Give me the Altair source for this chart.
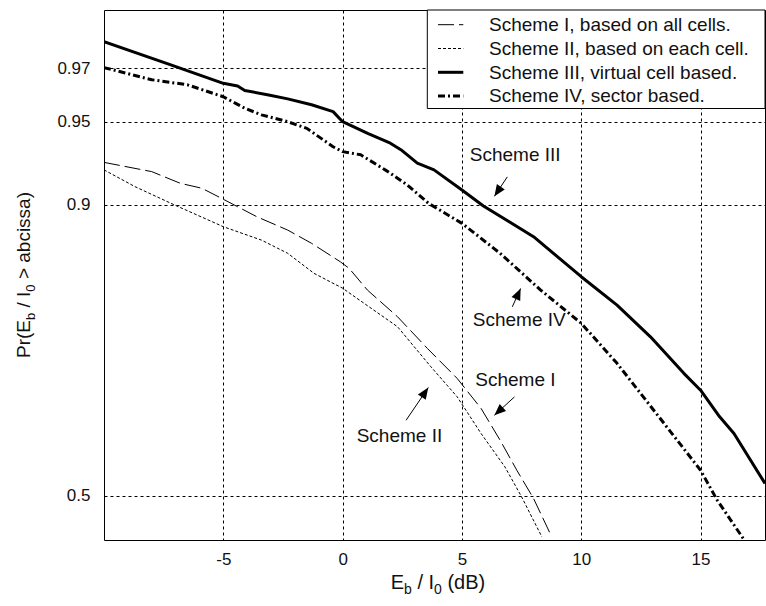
import altair as alt
import pandas as pd
from statistics import NormalDist

# ---------------- data ----------------
series_keys = ["I", "II", "III", "IV"]
series_names = [
    "Scheme I, based on all cells.",
    "Scheme II, based on each cell.",
    "Scheme III, virtual cell based.",
    "Scheme IV, sector based.",
]

s1_x = [-10, -8.0, -6.8, -5.9, -5.0, -3.6, -2.3, -1.3, -0.1, 0.27, 1.04, 2.3, 3.55, 4.8, 5.8, 6.6, 7.3, 8.0, 8.7]
s1_p = [0.9288, 0.9231, 0.9154, 0.9120, 0.9040, 0.8903, 0.8788, 0.8667, 0.8485, 0.8416, 0.8173, 0.7847,
        0.7418, 0.6974, 0.6499, 0.5968, 0.5450, 0.4956, 0.4341]

s2_x = [-10, -8.7, -7.05, -5.0, -3.4, -2.3, -1.2, 0.0, 0.9, 2.3, 3.7, 4.8, 5.8, 6.8, 7.5, 8.35]
s2_p = [0.9242, 0.9131, 0.8997, 0.8818, 0.8697, 0.8570, 0.8362, 0.8195, 0.8015, 0.7716, 0.7150, 0.6686,
        0.6083, 0.5509, 0.4984, 0.4286]

s3_x = [-10, -7.2, -5.0, -4.4, -4.1, -3.1, -2.3, -1.3, -0.4, 0.0, 1.05, 2.0, 2.44, 3.13, 3.83, 5.0, 5.9,
        8.0, 10.0, 11.5, 12.9, 14.3, 15.0, 15.8, 16.4, 17.7]
s3_p = [0.9771, 0.9710, 0.9652, 0.9643, 0.9627, 0.9611, 0.9596, 0.9573, 0.9545, 0.9501, 0.9446, 0.9396,
        0.9361, 0.9283, 0.9242, 0.9107, 0.8988, 0.8729, 0.8325, 0.7993, 0.7580, 0.7051, 0.6790, 0.6361,
        0.6083, 0.5219]

s4_x = [-10, -8.0, -6.5, -5.0, -4.1, -3.4, -2.3, -1.5, -0.4, 0.0, 0.76, 1.9, 2.7, 3.6, 5.0, 6.6, 8.3,
        10.0, 11.5, 13.5, 15.0, 15.7, 16.8]
s4_p = [0.9702, 0.9664, 0.9647, 0.9604, 0.9559, 0.9531, 0.9501, 0.9470, 0.9377, 0.9350, 0.9332, 0.9231,
        0.9144, 0.9009, 0.8847, 0.8570, 0.8173, 0.7761, 0.7201, 0.6236, 0.5450, 0.4924, 0.4250]

x_ticks = [-5, 0, 5, 10, 15]
y_tick_p = [0.5, 0.9, 0.95, 0.97]
x_domain = [-10, 17.7]
y_domain_p = [0.4232, 0.9837]

# annotations (position in dB / probability)
ann_text = ["Scheme III", "Scheme IV", "Scheme I", "Scheme II"]
ann_tx = [7.23, 7.40, 7.24, 2.38]
ann_tp = [0.9331, 0.7803, 0.6946, 0.6036]
arr_x0 = [6.90, 7.11, 7.20, 2.66]
arr_p0 = [0.9197, 0.7972, 0.6684, 0.6304]
arr_x1 = [6.36, 7.46, 6.36, 3.59]
arr_p1 = [0.9062, 0.8192, 0.6387, 0.6832]

# ---------------- styles ----------------
FONT = "Liberation Sans"
styles = {
    "I": dict(strokeWidth=1, strokeDash=[16, 5]),
    "II": dict(strokeWidth=1, strokeDash=[3, 2]),
    "III": dict(strokeWidth=3),
    "IV": dict(strokeWidth=3, strokeDash=[7, 3, 2, 3]),
}
arrow_angle = [214.0, 24.5, 227.5, 34.3]
W, H = 661, 530

# ---------------- tables ----------------
all_x = [s1_x, s2_x, s3_x, s4_x]
all_p = [s1_p, s2_p, s3_p, s4_p]
rows = []
for key, xs, ps in zip(series_keys, all_x, all_p):
    for xv, pv in zip(xs, ps):
        rows.append({"series": key, "x": xv, "p": pv})
df = pd.DataFrame(rows)

ann_df = pd.DataFrame({"t": ann_text, "x": ann_tx, "p": ann_tp})
arr_df = pd.DataFrame({"x": arr_x0, "p": arr_p0, "x1": arr_x1, "p1": arr_p1, "ang": arrow_angle})
one = pd.DataFrame({"k": [0]})

ND = NormalDist()
y_domain = [ND.inv_cdf(v) for v in y_domain_p]
y_tick_vals = [ND.inv_cdf(v) for v in y_tick_p]

x_scale = alt.Scale(domain=x_domain, nice=False, zero=False)
y_scale = alt.Scale(domain=y_domain, nice=False, zero=False)
x_axis = alt.Axis(values=x_ticks, labelExpr="'' + datum.value", title=None, grid=True,
                  gridDash=[3, 3], gridColor="#000", gridOpacity=1, gridWidth=1,
                  domain=False, ticks=False, tickSize=0, labelPadding=11,
                  labelFontSize=17, labelFont=FONT, labelColor="#111")
y_axis = alt.Axis(values=y_tick_vals, labelExpr="format(cumulativeNormal(datum.value), '.2~f')",
                  title=None, grid=True, gridDash=[3, 3], gridColor="#000", gridOpacity=1, gridWidth=1,
                  domain=False, ticks=False, tickSize=0, labelPadding=14,
                  labelFontSize=17, labelFont=FONT, labelColor="#111")

layers = []
for key in series_keys:
    layers.append(
        alt.Chart(df)
        .transform_filter(alt.datum.series == key)
        .transform_calculate(z="quantileNormal(datum.p)")
        .mark_line(color="black", clip=True, strokeJoin="round", **styles[key])
        .encode(x=alt.X("x:Q", scale=x_scale, axis=x_axis),
                y=alt.Y("z:Q", scale=y_scale, axis=y_axis),
                order="x:Q")
    )

# annotation texts
layers.append(
    alt.Chart(ann_df).transform_calculate(z="quantileNormal(datum.p)")
    .mark_text(font=FONT, fontSize=19, color="#111", align="center", baseline="middle")
    .encode(x=alt.X("x:Q", scale=x_scale, axis=x_axis), y=alt.Y("z:Q", scale=y_scale, axis=y_axis),
            text="t:N")
)
# arrows
layers.append(
    alt.Chart(arr_df).transform_calculate(z="quantileNormal(datum.p)", z1="quantileNormal(datum.p1)")
    .mark_rule(color="black", strokeWidth=1)
    .encode(x=alt.X("x:Q", scale=x_scale, axis=x_axis), y=alt.Y("z:Q", scale=y_scale, axis=y_axis),
            x2="x1:Q", y2="z1:Q")
)
layers.append(
    alt.Chart(arr_df).transform_calculate(z1="quantileNormal(datum.p1)")
    .mark_point(shape="M0,0L0.95,2.3L-0.95,2.3Z", filled=True, size=100, color="black", opacity=1,
                strokeWidth=0)
    .encode(x=alt.X("x1:Q", scale=x_scale, axis=x_axis), y=alt.Y("z1:Q", scale=y_scale, axis=y_axis),
            angle=alt.Angle("ang:Q", scale=None))
)

# legend box
layers.append(
    alt.Chart(one).mark_rect(fill="white", stroke="black", strokeWidth=1)
    .encode(x=alt.value(323.3), x2=alt.value(661), y=alt.value(0), y2=alt.value(98.5))
)
leg_sym_y = [14.7, 38.5, 62.3, 86.1]
leg_txt_y = [20.9, 44.7, 68.5, 92.3]
for i, key in enumerate(series_keys):
    layers.append(
        alt.Chart(one).mark_rule(color="black", **styles[key])
        .encode(x=alt.value(334), x2=alt.value(359.3), y=alt.value(leg_sym_y[i]))
    )
    layers.append(
        alt.Chart(one).mark_text(font=FONT, fontSize=19, color="#111", align="left", baseline="alphabetic")
        .encode(x=alt.value(385), y=alt.value(leg_txt_y[i]), text=alt.value(series_names[i]))
    )

# axis titles with subscripts
CW = {'P': 667, 'r': 333, '(': 333, 'E': 667, 'b': 556, ' ': 278, '/': 278, 'I': 278, '0': 556,
      '>': 584, 'a': 556, 'c': 500, 'i': 222, 's': 500, ')': 333, 'd': 556, 'B': 667}


def tw(s, fs):
    return sum(CW[c] for c in s) * fs / 1000.0


def title_pieces(pieces, main_fs, sub_fs):
    out = []
    pos = 0.0
    for s, sub in pieces:
        fs = sub_fs if sub else main_fs
        lead = len(s) - len(s.lstrip(' '))
        out.append((s.strip(' '), sub, fs, pos + tw(' ' * lead, fs)))
        pos += tw(s, fs)
    return out, pos


SUB_SHIFT = 5
ytitle = [("Pr(E", False), ("b", True), (" / I", False), ("0", True), (" > abcissa)", False)]
pieces, total = title_pieces(ytitle, 19, 13)
y_center, y_base = 265.0, -74.0
for s, sub, fs, off in pieces:
    layers.append(
        alt.Chart(one).mark_text(font=FONT, fontSize=fs, color="#111", align="left", baseline="alphabetic",
                                 angle=270)
        .encode(x=alt.value(y_base + (SUB_SHIFT if sub else 0)), y=alt.value(y_center + total / 2 - off),
                text=alt.value(s))
    )

xtitle = [("E", False), ("b", True), (" / I", False), ("0", True), (" (dB)", False)]
pieces, total = title_pieces(xtitle, 20, 14)
x_center, x_base = 334.0, 579.0
for s, sub, fs, off in pieces:
    layers.append(
        alt.Chart(one).mark_text(font=FONT, fontSize=fs, color="#111", align="left", baseline="alphabetic")
        .encode(x=alt.value(x_center - total / 2 + off), y=alt.value(x_base + (SUB_SHIFT if sub else 0)),
                text=alt.value(s))
    )

chart = (
    alt.layer(*layers)
    .properties(width=W, height=H,
                padding={"left": 104, "top": 10, "right": 1, "bottom": 66},
                autosize=alt.AutoSizeParams(type="none"),
                background="white")
    .configure_view(stroke="black", strokeWidth=1)
)

chart.save("out.html", embed_options={"renderer": "svg", "actions": False})
